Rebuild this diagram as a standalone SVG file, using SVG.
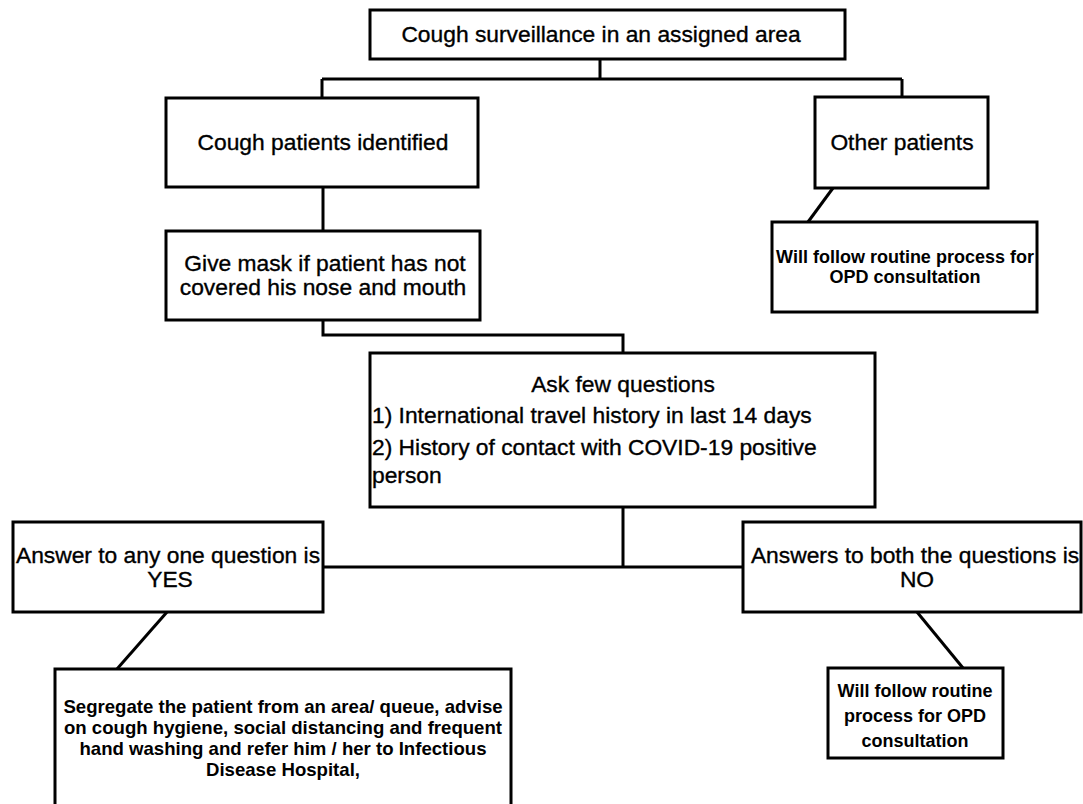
<svg xmlns="http://www.w3.org/2000/svg" width="1083" height="804" viewBox="0 0 1083 804">
<style>
.box{fill:#fff;stroke:#000;stroke-width:3}
.ln{fill:none;stroke:#000;stroke-width:3}
text{font-family:"Liberation Sans",Arial,sans-serif;fill:#000}
.t{font-size:22.8px;stroke:#000;stroke-width:0.35}
.c{text-anchor:middle}
.s{font-size:18px;font-weight:bold}
.g{font-size:18.6px;font-weight:bold}
</style>
<rect width="1083" height="804" fill="#fff"/>
<g id="connectors">
<path class="ln" d="M600,59 V79 M322,79 H902 M322,79 V98 M902,79 V97"/>
<path class="ln" d="M323,187 V231"/>
<path class="ln" d="M323,320 V335 H623 V353"/>
<path class="ln" d="M623,507 V567 M323,567 H743"/>
<path class="ln" d="M167,612 L117,669"/>
<path class="ln" d="M917,612 L963,668"/>
<path class="ln" d="M833,188 L808,222"/>
</g>
<g id="n_top">
<rect class="box" x="370" y="10" width="475" height="49"/>
<text class="t c" x="601" y="42">Cough surveillance in an assigned area</text>
</g>
<g id="n_cough">
<rect class="box" x="166" y="98" width="312" height="89"/>
<text class="t c" x="323" y="150">Cough patients identified</text>
</g>
<g id="n_other">
<rect class="box" x="815" y="97" width="173" height="91"/>
<text class="t c" x="902" y="150">Other patients</text>
</g>
<g id="n_other_routine">
<rect class="box" x="772" y="222" width="265" height="90"/>
<text class="s c" x="905" y="263">Will follow routine process for</text>
<text class="s c" x="905" y="283">OPD consultation</text>
</g>
<g id="n_mask">
<rect class="box" x="166" y="231" width="314" height="89"/>
<text class="t c" x="325" y="271">Give mask if patient has not</text>
<text class="t c" x="323" y="295">covered his nose and mouth</text>
</g>
<g id="n_ask">
<rect class="box" x="370" y="353" width="505" height="154"/>
<text class="t c" x="623" y="392">Ask few questions</text>
<text class="t" x="372" y="423">1) International  travel history in last 14 days</text>
<text class="t" x="372" y="455">2) History of contact with COVID-19 positive</text>
<text class="t" x="372" y="483">person</text>
</g>
<g id="n_yes">
<rect class="box" x="13" y="522" width="310" height="90"/>
<text class="t c" x="168" y="563">Answer to any one question is</text>
<text class="t c" x="170" y="587">YES</text>
</g>
<g id="n_no">
<rect class="box" x="743" y="522" width="338" height="90"/>
<text class="t c" x="915" y="563">Answers to both the questions is</text>
<text class="t c" x="917" y="587">NO</text>
</g>
<g id="n_segregate">
<rect class="box" x="55" y="669" width="456" height="150"/>
<text class="g c" x="283" y="713">Segregate the patient from an area/ queue, advise</text>
<text class="g c" x="283" y="734">on cough hygiene, social distancing and frequent</text>
<text class="g c" x="283" y="755">hand washing and refer him / her to Infectious</text>
<text class="g c" x="283" y="776">Disease Hospital,</text>
</g>
<g id="n_no_routine">
<rect class="box" x="828" y="668" width="175" height="90"/>
<text class="s c" x="915" y="697">Will follow routine</text>
<text class="s c" x="915" y="722">process for OPD</text>
<text class="s c" x="915" y="747">consultation</text>
</g>
</svg>
